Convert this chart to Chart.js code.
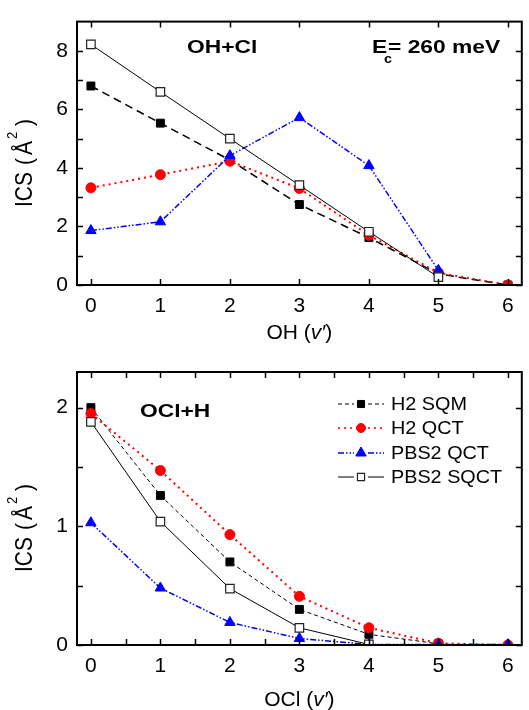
<!DOCTYPE html>
<html><head><meta charset="utf-8">
<script src="https://cdn.jsdelivr.net/npm/chart.js@4.4.1/dist/chart.umd.min.js"></script>
<style>
html,body{margin:0;padding:0;background:#fff;}
#wrap{position:relative;width:529px;height:710px;overflow:hidden;}
canvas{position:absolute;left:0;}
#c1{top:0;} #c2{top:345px;}
</style></head><body>
<div id="wrap"><canvas id="c1" width="529" height="345"></canvas><canvas id="c2" width="529" height="365"></canvas></div>
<script>
// ---------- data ----------
const vLevels = [0, 1, 2, 3, 4, 5, 6];
const seriesNames = ['H2 SQM', 'H2 QCT', 'PBS2 QCT', 'PBS2 SQCT'];
// OH + Cl panel (ICS in Å^2)
const ohH2SQM    = [6.80, 5.53, 4.27, 2.75, 1.62, 0.38, 0.00];
const ohH2QCT    = [3.32, 3.77, 4.23, 3.30, 1.70, 0.42, 0.00];
const ohPBS2QCT  = [1.86, 2.16, 4.42, 5.72, 4.08, 0.50, null];
const ohPBS2SQCT = [8.22, 6.60, 5.00, 3.41, 1.82, 0.27, null];
// OCl + H panel
const oclH2SQM    = [2.00, 1.26, 0.70, 0.30, 0.09, 0.01, null];
const oclH2QCT    = [1.95, 1.47, 0.93, 0.41, 0.145, 0.015, 0.00];
const oclPBS2QCT  = [1.03, 0.48, 0.19, 0.055, 0.005, 0.005, 0.003];
const oclPBS2SQCT = [1.88, 1.04, 0.475, 0.145, 0.005, null, null];
// ticks
const topXTicks = [0, 1, 2, 3, 4, 5, 6];
const botXTicks = [0, 0.5, 1, 1.5, 2, 2.5, 3, 3.5, 4, 4.5, 5, 5.5, 6];
const xTickLabels = ['0', '1', '2', '3', '4', '5', '6'];
const topYTicks = [0, 1, 2, 3, 4, 5, 6, 7, 8];
const topYLabels = [0, 2, 4, 6, 8];
const botYTicks = [0, 0.5, 1, 1.5, 2];
const botYLabels = [0, 1, 2];

const FONT = '"Liberation Sans", Arial, Helvetica, sans-serif';
Chart.defaults.font.family = FONT;
Chart.defaults.color = '#000';

function pts(vals) {
  return vLevels.map((x, i) => ({x: x, y: vals[i]})).filter(p => p.y !== null);
}

function styles(panel) {
  const thin = panel === 'bot';
  return [
    {borderColor: '#000', borderWidth: thin ? 1 : 1.5, borderDash: thin ? [4, 3] : [8, 5],
     pointStyle: 'rect', pointRadius: 5.6, pointBackgroundColor: '#000', pointBorderColor: '#000', pointBorderWidth: 1, order: 4},
    {borderColor: '#ff0000', borderWidth: 2, borderDash: [2, 4],
     pointStyle: 'circle', pointRadius: 5, pointBackgroundColor: '#ff0000', pointBorderColor: '#ff0000', pointBorderWidth: 1, order: 3},
    {borderColor: '#0000ff', borderWidth: 1.5, borderDash: [6, 2, 1.5, 2, 1.5, 2],
     pointStyle: 'triangle', pointRadius: 6, pointBackgroundColor: '#0000ff', pointBorderColor: '#0000ff', pointBorderWidth: 1, order: 2},
    {borderColor: '#000', borderWidth: 1, borderDash: [],
     pointStyle: 'rect', pointRadius: 6, pointBackgroundColor: '#fff', pointBorderColor: '#222', pointBorderWidth: 1.2, order: 1}
  ];
}

function makeDatasets(panel, arrays) {
  const st = styles(panel);
  return arrays.map((a, i) => Object.assign({label: seriesNames[i], data: pts(a), tension: 0, fill: false, spanGaps: false}, st[i]));
}

function drawMarker(ctx, style, x, y, r, fill, stroke, lw) {
  ctx.save();
  ctx.beginPath();
  if (style === 'rect') {
    const s = r * Math.SQRT1_2;
    ctx.rect(x - s, y - s, 2 * s, 2 * s);
  } else if (style === 'circle') {
    ctx.arc(x, y, r, 0, Math.PI * 2);
  } else if (style === 'triangle') {
    let a = 0;
    for (let k = 0; k < 3; k++) {
      const px = x + Math.sin(a) * r, py = y - Math.cos(a) * r;
      if (k === 0) ctx.moveTo(px, py); else ctx.lineTo(px, py);
      a += 2 * Math.PI / 3;
    }
    ctx.closePath();
  }
  ctx.fillStyle = fill; ctx.fill();
  ctx.lineWidth = lw; ctx.strokeStyle = stroke; ctx.stroke();
  ctx.restore();
}

// frame, inward ticks, axis titles, annotations, legend
const decorPlugin = {
  id: 'decor',
  afterDraw(chart, args, opts) {
    const ctx = chart.ctx, ca = chart.chartArea;
    const xs = chart.scales.x, ys = chart.scales.y;
    ctx.save();
    ctx.strokeStyle = '#000';
    ctx.lineWidth = 1.5;
    ctx.beginPath();
    xs.ticks.forEach(t => {
      const px = Math.round(xs.getPixelForValue(t.value)) + 0.5;
      ctx.moveTo(px, ca.bottom); ctx.lineTo(px, ca.bottom - 6);
      ctx.moveTo(px, ca.top); ctx.lineTo(px, ca.top + 6);
    });
    ys.ticks.forEach(t => {
      const py = Math.round(ys.getPixelForValue(t.value)) + 0.5;
      ctx.moveTo(ca.left, py); ctx.lineTo(ca.left + 6, py);
      ctx.moveTo(ca.right, py); ctx.lineTo(ca.right - 6, py);
    });
    ctx.stroke();
    ctx.lineWidth = 2;
    ctx.strokeRect(ca.left, ca.top, ca.right - ca.left, ca.bottom - ca.top);

    // x axis title with italic v'
    ctx.fillStyle = '#000';
    ctx.textBaseline = 'alphabetic';
    ctx.textAlign = 'left';
    const parts = [[opts.xTitle[0], '21px ' + FONT], ['v\u2032', 'italic 21px ' + FONT], [')', '21px ' + FONT]];
    let tw = 0;
    parts.forEach(p => { ctx.font = p[1]; tw += ctx.measureText(p[0]).width; });
    let cx = (ca.left + ca.right) / 2 - tw / 2;
    parts.forEach(p => { ctx.font = p[1]; ctx.fillText(p[0], cx, opts.xTitleY); cx += ctx.measureText(p[0]).width; });

    // y axis title ICS (Å²)
    ctx.save();
    ctx.translate(opts.yTitleX, opts.yTitleCY);
    ctx.rotate(-Math.PI / 2);
    ctx.scale(1, 1.15);
    const yp = [['ICS', '21px ' + FONT, 0, 0], ['(', '21px ' + FONT, 7, 0], ['\u00C5', '21px ' + FONT, 3, 0], ['2', '13px ' + FONT, 2, -13], [')', '21px ' + FONT, 6, 0]];
    let yw = 0;
    yp.forEach(p => { ctx.font = p[1]; yw += p[2] + ctx.measureText(p[0]).width; });
    let yx = -yw / 2;
    yp.forEach(p => { ctx.font = p[1]; yx += p[2]; ctx.fillText(p[0], yx, p[3]); yx += ctx.measureText(p[0]).width; });
    ctx.restore();

    // annotations
    (opts.notes || []).forEach(n => {
      ctx.save();
      ctx.font = n.font;
      ctx.translate(n.x, n.y);
      ctx.scale(n.sx || 1, 1);
      ctx.fillText(n.text, 0, 0);
      ctx.restore();
    });

    // legend
    if (opts.legend) {
      const L = opts.legend;
      chart.data.datasets.forEach((d, i) => {
        const y = L.rows[i];
        ctx.save();
        ctx.strokeStyle = d.borderColor;
        ctx.lineWidth = Math.min(d.borderWidth, 1.5);
        ctx.setLineDash(d.borderDash || []);
        ctx.beginPath();
        ctx.moveTo(L.x0, y); ctx.lineTo(L.mx - 7, y);
        ctx.moveTo(L.mx + 7, y); ctx.lineTo(L.x1, y);
        ctx.stroke();
        ctx.restore();
        const r = d.pointStyle === 'rect' ? 5 : (d.pointStyle === 'circle' ? 4.5 : 6);
        drawMarker(ctx, d.pointStyle, L.mx, y, r, d.pointBackgroundColor, d.pointBorderColor, d.pointBorderWidth);
        ctx.fillStyle = '#000';
        ctx.save();
        ctx.font = '18px ' + FONT;
        ctx.textBaseline = 'middle';
        ctx.translate(L.tx, y + 1);
        ctx.scale(1.1, 1);
        ctx.fillText(d.label, 0, 0);
        ctx.restore();
      });
    }
    ctx.restore();
  }
};

function makeChart(id, panel, arrays, yMax, yTicks, yLabels, xTicks, padTop, xAxisH, decor) {
  return new Chart(document.getElementById(id), {
    type: 'line',
    data: {datasets: makeDatasets(panel, arrays)},
    options: {
      responsive: false, animation: false, events: [],
      layout: {padding: {top: padTop, right: 2, left: 0, bottom: 0}},
      plugins: {legend: {display: false}, tooltip: {enabled: false}, decor: decor},
      scales: {
        x: {
          type: 'linear', min: -0.2, max: 6.2,
          grid: {display: false, drawTicks: false}, border: {display: false},
          afterBuildTicks: s => { s.ticks = xTicks.map(v => ({value: v})); },
          ticks: {padding: 9, color: '#000', font: {size: 21}, maxRotation: 0, autoSkip: false,
            callback: v => (Math.abs(v - Math.round(v)) < 1e-6 ? xTickLabels[Math.round(v)] : '')},
          afterFit: s => { s.height = xAxisH; }
        },
        y: {
          type: 'linear', min: 0, max: yMax,
          grid: {display: false, drawTicks: false}, border: {display: false},
          afterBuildTicks: s => { s.ticks = yTicks.map(v => ({value: v})); },
          ticks: {padding: 9, color: '#000', font: {size: 21}, autoSkip: false,
            callback: v => (yLabels.indexOf(v) >= 0 ? String(v) : '')},
          afterFit: s => { s.width = 77; }
        }
      }
    },
    plugins: [decorPlugin]
  });
}

makeChart('c1', 'top', [ohH2SQM, ohH2QCT, ohPBS2QCT, ohPBS2SQCT], 9, topYTicks, topYLabels, topXTicks, 13, 60, {
  xTitle: ['OH ('], xTitleY: 339, yTitleX: 32, yTitleCY: 163,
  notes: [
    {text: 'OH+Cl', x: 187, y: 53, font: 'bold 19px ' + FONT, sx: 1.2},
    {text: 'E', x: 372, y: 53, font: 'bold 19px ' + FONT, sx: 1.2},
    {text: 'c', x: 384, y: 63, font: 'bold 12px ' + FONT, sx: 1.2},
    {text: '= 260 meV', x: 388, y: 53, font: 'bold 19px ' + FONT, sx: 1.2}
  ]
});

makeChart('c2', 'bot', [oclH2SQM, oclH2QCT, oclPBS2QCT, oclPBS2SQCT], 2.3, botYTicks, botYLabels, botXTicks, 27, 65, {
  xTitle: ['OCl ('], xTitleY: 361, yTitleX: 32, yTitleCY: 183,
  notes: [
    {text: 'OCl+H', x: 140, y: 72, font: 'bold 19px ' + FONT, sx: 1.2}
  ],
  legend: {rows: [59, 83, 108, 132], x0: 338, x1: 384, mx: 361, tx: 391}
});
</script>
</body></html>
